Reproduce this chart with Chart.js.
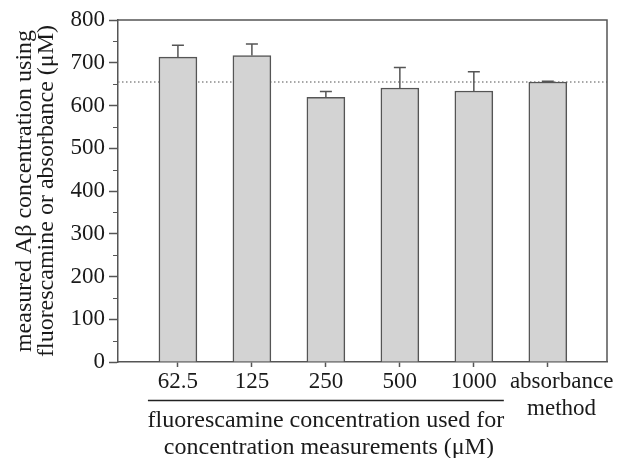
<!DOCTYPE html>
<html><head><meta charset="utf-8">
<script src="https://cdn.jsdelivr.net/npm/chart.js@4.4.1/dist/chart.umd.min.js"></script>
<style>html,body{margin:0;padding:0;background:#fff}</style>
</head><body>
<canvas id="c" width="619" height="458"></canvas>
<script>
// ---- data ----
const categories = ['62.5', '125', '250', '500', '1000', ['absorbance', 'method']];
const means = [713, 717, 619, 641, 634, 655];
const errors = [28, 27, 14, 48, 45, 2];
const referenceValue = 655;
const yTicks = [0, 100, 200, 300, 400, 500, 600, 700, 800];
const yMinorTicks = [50, 150, 250, 350, 450, 550, 650, 750];
const xTitle = ['fluorescamine concentration used for', 'concentration measurements (\u03BCM)'];
const yTitle = ['measured A\u03B2 concentration using', 'fluorescamine or absorbance (\u03BCM)'];

const FONT = 'Liberation Serif, Times New Roman, serif';
const AXIS = '#555555';
const TEXT = '#1a1a1a';
const SHIFT = '\u2002\u2002\u2009'; // nudges the two-line label right, as in the source

const decor = {
  id: 'decor',
  beforeDatasetsDraw(chart) {
    const {ctx, chartArea: a, scales: {y}} = chart;
    const py = y.getPixelForValue(referenceValue);
    ctx.save();
    ctx.strokeStyle = '#8a8a8a';
    ctx.lineWidth = 1.5;
    ctx.setLineDash([1.5, 2.5]);
    ctx.beginPath(); ctx.moveTo(a.left, py); ctx.lineTo(a.right, py); ctx.stroke();
    ctx.restore();
  },
  afterDatasetsDraw(chart) {
    const {ctx, scales: {x, y}} = chart;
    ctx.save();
    ctx.strokeStyle = AXIS;
    ctx.lineWidth = 1.5;
    means.forEach((m, i) => {
      const px = x.getPixelForValue(i + 1);
      const yb = y.getPixelForValue(m);
      const yt = y.getPixelForValue(m + errors[i]);
      ctx.beginPath();
      ctx.moveTo(px, yb); ctx.lineTo(px, yt);
      ctx.moveTo(px - 6, yt); ctx.lineTo(px + 6, yt);
      ctx.stroke();
    });
    ctx.restore();
  },
  afterDraw(chart) {
    const {ctx, chartArea: a, scales: {x, y}} = chart;
    ctx.save();
    ctx.strokeStyle = AXIS;
    ctx.lineWidth = 1.5;
    ctx.beginPath();
    ctx.moveTo(a.left, a.top); ctx.lineTo(a.right, a.top); ctx.lineTo(a.right, a.bottom);
    ctx.stroke();
    ctx.lineWidth = 1;
    yMinorTicks.forEach(v => {
      const py = Math.round(y.getPixelForValue(v)) + 0.5;
      ctx.beginPath(); ctx.moveTo(a.left - 5, py); ctx.lineTo(a.left, py); ctx.stroke();
    });
    const x1 = x.getPixelForValue(1) - 30;
    const x5 = x.getPixelForValue(5) + 30;
    const xc = x.getPixelForValue(3);
    ctx.strokeStyle = '#222';
    ctx.lineWidth = 1.5;
    ctx.beginPath(); ctx.moveTo(x1, 400.5); ctx.lineTo(x5, 400.5); ctx.stroke();
    ctx.fillStyle = TEXT;
    ctx.font = '24px ' + FONT;
    ctx.textAlign = 'center';
    ctx.textBaseline = 'alphabetic';
    ctx.fillText(xTitle[0], xc, 427);
    ctx.fillText(xTitle[1], xc + 3, 454);
    const yc = (a.top + a.bottom) / 2;
    [[31, yTitle[0]], [53, yTitle[1]]].forEach(([bx, t]) => {
      ctx.save();
      ctx.translate(bx, yc);
      ctx.rotate(-Math.PI / 2);
      ctx.fillText(t, 0, 0);
      ctx.restore();
    });
    ctx.restore();
  }
};

new Chart(document.getElementById('c'), {
  type: 'bar',
  data: {
    datasets: [{
      data: means.map((v, i) => ({x: i + 1, y: v})),
      backgroundColor: '#d3d3d3',
      borderColor: AXIS,
      borderWidth: 1.5,
      barThickness: 38
    }]
  },
  options: {
    responsive: false,
    animation: false,
    devicePixelRatio: 1,
    layout: {padding: {left: 0, top: 20, right: 12, bottom: 0}},
    plugins: {legend: {display: false}, tooltip: {enabled: false}},
    scales: {
      x: {
        type: 'linear',
        offset: false,
        min: 0.19,
        max: 6.8,
        afterBuildTicks: s => { s.ticks = categories.map((c, i) => ({value: i + 1})); },
        afterFit: s => { s.height = 96; },
        ticks: {
          callback: v => {
            const c = categories[v - 1];
            return Array.isArray(c) ? c.map(t => SHIFT + t) : c;
          },
          autoSkip: false,
          maxRotation: 0,
          padding: 1,
          color: TEXT,
          font: {family: FONT, size: 23, lineHeight: 1.2}
        },
        grid: {offset: false, drawOnChartArea: false, tickLength: 5, color: AXIS, tickWidth: 1.5},
        border: {color: AXIS, width: 1.5}
      },
      y: {
        min: 0,
        max: 800,
        afterBuildTicks: s => { s.ticks = yTicks.map(v => ({value: v})); },
        afterFit: s => { s.width = 118; },
        ticks: {
          padding: 4,
          color: TEXT,
          font: {family: FONT, size: 23}
        },
        grid: {drawOnChartArea: false, tickLength: 9, color: AXIS, tickWidth: 1.5},
        border: {color: AXIS, width: 1.5}
      }
    }
  },
  plugins: [decor]
});
</script>
</body></html>
